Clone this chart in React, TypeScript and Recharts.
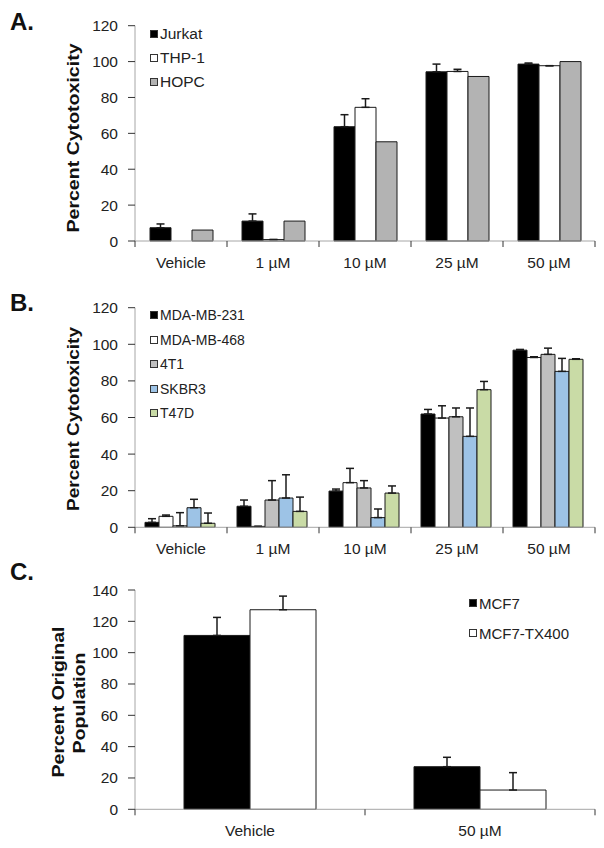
import { Bar, BarChart, ErrorBar, Legend, XAxis, YAxis } from "recharts";

const FONT = '"Liberation Sans", Arial, sans-serif';

// shared x categories
const doses = ["Vehicle", "1 µM", "10 µM", "25 µM", "50 µM"];

// A. leukemia lines
const jurkat = [7.4, 11.1, 63.7, 94.3, 98.6];
const jurkatErr = [2.1, 4, 6.7, 4.3, 0.6];
const thp1 = [0, 0.8, 74.5, 94.5, 97.7];
const thp1Err = [0, 0, 4.8, 1.2, 0];
const hopc = [6.1, 11.1, 55.3, 91.7, 100];
const hopcErr = [0, 0, 0, 0, 0];

// B. breast cancer lines
const mda231 = [2.7, 11.5, 19.8, 61.9, 96.8];
const mda231Err = [2, 3.4, 1.1, 2.5, 0.4];
const mda468 = [6.0, 0.5, 24.4, 59.7, 92.8];
const mda468Err = [0.7, 0, 7.8, 6.7, 0.4];
const t41 = [0.8, 14.9, 21.5, 60.4, 94.5];
const t41Err = [7.2, 10.6, 4, 4.8, 3.4];
const skbr3 = [10.7, 16, 5.3, 49.7, 85.2];
const skbr3Err = [4.6, 12.7, 4.7, 15.5, 7.1];
const t47d = [2.2, 8.7, 18.7, 75.2, 91.8];
const t47dErr = [5.6, 7.8, 3.9, 4.5, 0.3];

// C. MCF7 population
const groupsC = ["Vehicle", "50 µM"];
const mcf7 = [111, 27.2];
const mcf7Err = [11.5, 6];
const tx400 = [127.4, 12.3];
const tx400Err = [8.7, 11.1];

const ticks120 = [0, 20, 40, 60, 80, 100, 120];
const ticks140 = [0, 20, 40, 60, 80, 100, 120, 140];

type Series = { key: string; name: string; values: number[]; errors: number[]; fill: string };

function buildRows(cats: string[], series: Series[]) {
  return cats.map((cat, i) => {
    const row: any = { cat };
    series.forEach((s) => {
      row[s.key] = s.values[i];
      row[s.key + "Err"] = [0, s.errors[i]];
    });
    return row;
  });
}

const seriesA: Series[] = [
  { key: "jurkat", name: "Jurkat", values: jurkat, errors: jurkatErr, fill: "#000000" },
  { key: "thp1", name: "THP-1", values: thp1, errors: thp1Err, fill: "#ffffff" },
  { key: "hopc", name: "HOPC", values: hopc, errors: hopcErr, fill: "#b3b3b3" },
];
const seriesB: Series[] = [
  { key: "mda231", name: "MDA-MB-231", values: mda231, errors: mda231Err, fill: "#000000" },
  { key: "mda468", name: "MDA-MB-468", values: mda468, errors: mda468Err, fill: "#ffffff" },
  { key: "t41", name: "4T1", values: t41, errors: t41Err, fill: "#c0c0c0" },
  { key: "skbr3", name: "SKBR3", values: skbr3, errors: skbr3Err, fill: "#9dc3e6" },
  { key: "t47d", name: "T47D", values: t47d, errors: t47dErr, fill: "#c9dba6" },
];
const seriesC: Series[] = [
  { key: "mcf7", name: "MCF7", values: mcf7, errors: mcf7Err, fill: "#000000" },
  { key: "tx400", name: "MCF7-TX400", values: tx400, errors: tx400Err, fill: "#ffffff" },
];

function CatTick(props: any) {
  const { x, y, payload, index, count, half } = props;
  const h = payload && payload.offset ? payload.offset : half;
  const axisY = y - 16;
  return (
    <g>
      <line x1={x - h} x2={x - h} y1={axisY} y2={axisY + 6} stroke="#333" />
      {index === count - 1 && <line x1={x + h} x2={x + h} y1={axisY} y2={axisY + 6} stroke="#333" />}
      <text x={x} y={y} dy="0.71em" textAnchor="middle" fontSize={15.5} fontFamily={FONT} fill="#222">
        {payload.value}
      </text>
    </g>
  );
}

function makeLegend(fontSize: number, rowH: number) {
  return (props: any) => (
    <div style={{ fontFamily: FONT, fontSize, color: "#222" }}>
      {(props.payload || []).map((entry: any) => (
        <div key={entry.value} style={{ display: "flex", alignItems: "center", height: rowH, whiteSpace: "nowrap" }}>
          <span
            style={{
              display: "inline-block",
              width: 6,
              height: 6,
              background: entry.color,
              border: "1px solid #333",
              marginRight: 2,
            }}
          />
          <span>{entry.value}</span>
        </div>
      ))}
    </div>
  );
}

function Panel(props: {
  top: number;
  height: number;
  cats: string[];
  series: Series[];
  yMax: number;
  yTicks: number[];
  gap: number;
  mTop: number;
  mBottom: number;
  legendPos: { top: number; left: number };
  legendFont: number;
  legendRow: number;
}) {
  const rows = buildRows(props.cats, props.series);
  const half = 460 / props.cats.length / 2;
  const order = props.series.map((s) => s.key);
  return (
    <div style={{ position: "absolute", top: props.top, left: 0 }}>
      <BarChart
        width={604}
        height={props.height}
        data={rows}
        barGap={0}
        barCategoryGap={props.gap}
        margin={{ top: props.mTop, right: 9, bottom: props.mBottom, left: 75 }}
      >
        <XAxis
          dataKey="cat"
          height={30}
          axisLine={{ stroke: "#a6a6a6" }}
          tickLine={false}
          tickSize={6}
          tickMargin={10}
          interval={0}
          tick={(p: any) => <CatTick {...p} count={props.cats.length} half={half} />}
        />
        <YAxis
          width={60}
          domain={[0, props.yMax]}
          ticks={props.yTicks}
          interval={0}
          axisLine={{ stroke: "#a6a6a6" }}
          tickLine={{ stroke: "#333" }}
          tickSize={7}
          tickMargin={10}
          tick={{ fontSize: 15.5, fontFamily: FONT, fill: "#222" }}
        />
        <Legend
          layout="vertical"
          align="center"
          verticalAlign="middle"
          itemSorter={(item: any) => order.indexOf(item.dataKey)}
          wrapperStyle={{ top: props.legendPos.top, left: props.legendPos.left, width: "auto" }}
          content={makeLegend(props.legendFont, props.legendRow)}
        />
        {props.series.map((s) => (
          <Bar
            key={s.key}
            dataKey={s.key}
            name={s.name}
            fill={s.fill}
            stroke="#1a1a1a"
            strokeWidth={1}
            isAnimationActive={false}
          >
            {s.errors.some((e) => e > 0) && (
              <ErrorBar
                dataKey={s.key + "Err"}
                direction="y"
                width={4}
                stroke="#1a1a1a"
                strokeWidth={1.5}
                isAnimationActive={false}
              />
            )}
          </Bar>
        ))}
      </BarChart>
    </div>
  );
}

const labelStyle: any = {
  position: "absolute",
  fontFamily: FONT,
  fontWeight: "bold",
  color: "#111",
  whiteSpace: "nowrap",
};

function RotLabel({ x, y, text, size, stretch }: { x: number; y: number; text: string; size: number; stretch: number }) {
  return (
    <div
      style={{
        ...labelStyle,
        left: x,
        top: y,
        fontSize: size,
        lineHeight: 1,
        transform: `translate(-50%, -50%) rotate(-90deg) scaleX(${stretch})`,
      }}
    >
      {text}
    </div>
  );
}

export default function App() {
  return (
    <div style={{ position: "absolute", top: 0, left: 0, width: 604, height: 848, background: "#fff", overflow: "hidden" }}>
      <Panel
        top={0}
        height={275}
        cats={doses}
        series={seriesA}
        yMax={120}
        yTicks={ticks120}
        gap={15}
        mTop={25.7}
        mBottom={4}
        legendPos={{ top: 22, left: 150 }}
        legendFont={15.5}
        legendRow={24}
      />
      <Panel
        top={280}
        height={282}
        cats={doses}
        series={seriesB}
        yMax={120}
        yTicks={ticks120}
        gap={10}
        mTop={27.7}
        mBottom={4.7}
        legendPos={{ top: 23, left: 150 }}
        legendFont={14}
        legendRow={24.5}
      />
      <Panel
        top={560}
        height={288}
        cats={groupsC}
        series={seriesC}
        yMax={140}
        yTicks={ticks140}
        gap={49}
        mTop={30}
        mBottom={8.7}
        legendPos={{ top: 28, left: 469 }}
        legendFont={15}
        legendRow={30}
      />

      <div style={{ ...labelStyle, left: 10, top: 8, fontSize: 24 }}>A.</div>
      <div style={{ ...labelStyle, left: 10, top: 289, fontSize: 24 }}>B.</div>
      <div style={{ ...labelStyle, left: 10, top: 558, fontSize: 24 }}>C.</div>

      <RotLabel x={73} y={138} text="Percent Cytotoxicity" size={17} stretch={1.15} />
      <RotLabel x={73} y={419} text="Percent Cytotoxicity" size={17} stretch={1.12} />
      <RotLabel x={58} y={702} text="Percent Original" size={17} stretch={1.15} />
      <RotLabel x={79} y={703} text="Population" size={17} stretch={1.15} />
    </div>
  );
}
